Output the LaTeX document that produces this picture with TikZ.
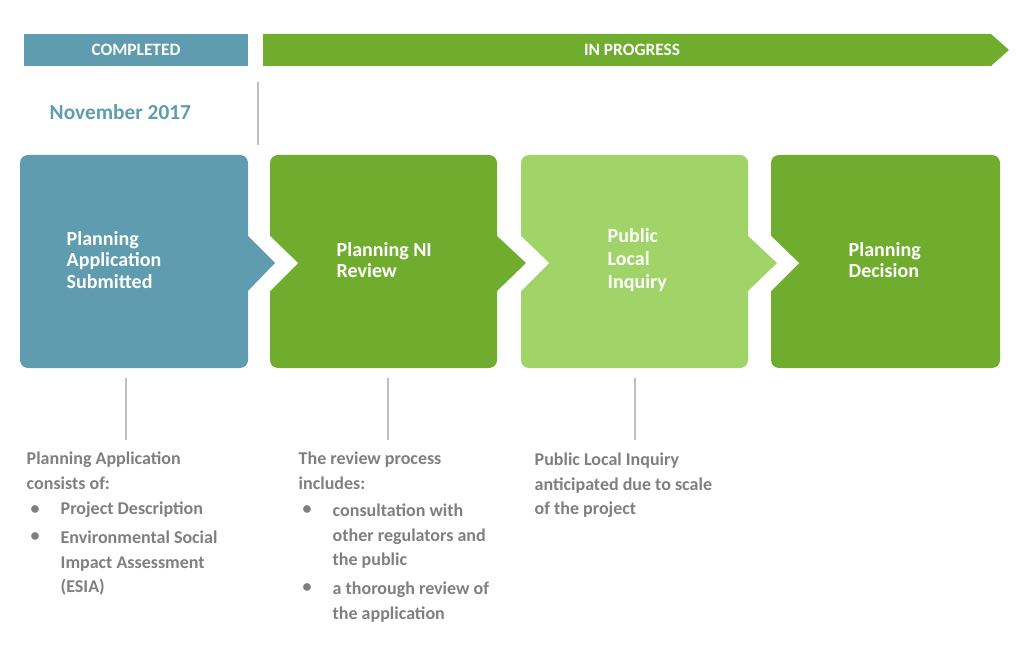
\documentclass[tikz,border=0pt]{standalone}
\usepackage{fontspec}
\setmainfont{Carlito}
\begin{document}
\begin{tikzpicture}[x=0.75pt,y=-0.75pt,
  boxtxt/.style={text=white,font=\bfseries\fontsize{15}{16}\selectfont,align=left,anchor=west},
  graytxt/.style={text=gtext,font=\bfseries\fontsize{13.5}{18.5}\selectfont,align=left,anchor=north west},
  gline/.style={draw=gline,line width=0.8pt}]
\definecolor{blueg}{HTML}{5F9CAF}
\definecolor{greenp}{HTML}{70AD2F}
\definecolor{lgreen}{HTML}{A0D468}
\definecolor{gtext}{HTML}{7F7F7F}
\definecolor{gline}{HTML}{BFBFBF}
\useasboundingbox (0,0) rectangle (1024,659);
% banner
\fill[blueg] (24,34) rectangle (248,66);
\node[text=white,font=\bfseries\fontsize{13}{14}\selectfont] (comp) at (136,50) {COMPLETED};
\fill[greenp] (263,34) -- (991,34) -- (1009,50) -- (991,66) -- (263,66) -- cycle;
\node[text=white,font=\bfseries\fontsize{13}{14}\selectfont] (prog) at (632,50) {IN PROGRESS};
\draw[gline] (258,82) -- (258,145);
\node[text=blueg,font=\bfseries\fontsize{16}{18}\selectfont,anchor=west] (nov) at (45,112) {November 2017};
% boxes
\fill[blueg,rounded corners=6] (20,155) rectangle (248,368);
\fill[greenp,rounded corners=6] (270,155) rectangle (497,368);
\fill[lgreen,rounded corners=6] (521,155) rectangle (748,368);
\fill[greenp,rounded corners=6] (771,155) rectangle (1000,368);
% notches
\fill[white] (269,235) -- (298,263) -- (269,292) -- cycle;
\fill[white] (520,235) -- (549,263) -- (520,292) -- cycle;
\fill[white] (770,235) -- (799,263) -- (770,292) -- cycle;
% tips
\fill[blueg] (247,235) -- (275,263) -- (247,292) -- cycle;
\fill[greenp] (496,235) -- (526,263) -- (496,292) -- cycle;
\fill[lgreen] (747,235) -- (777,263) -- (747,292) -- cycle;
\node[boxtxt] (b1) at (62,260) {Planning\\Application\\Submitted};
\node[boxtxt] (b2) at (332,260) {Planning NI\\Review};
\node[boxtxt,font=\bfseries\fontsize{15}{17.5}\selectfont] (b3) at (603,260) {Public\\Local\\Inquiry};
\node[boxtxt] (b4) at (844,260) {Planning\\Decision};
% connector lines
\coordinate (l1a) at (126,378); \coordinate (l1b) at (126,440);
\coordinate (l2a) at (388,378); \coordinate (l2b) at (388,440);
\coordinate (l3a) at (635,378); \coordinate (l3b) at (635,440);
\draw[gline] (l1a) -- (l1b);
\draw[gline] (l2a) -- (l2b);
\draw[gline] (l3a) -- (l3b);
% notes
\node[graytxt] (t1) at (22,447) {Planning Application\\consists of:};
\node[graytxt,anchor=west] (d1) at (26,510) {•};
\node[graytxt,anchor=west] (p1) at (56,510) {Project Description};
\node[graytxt,anchor=west] (d2) at (26,537) {•};
\node[graytxt,anchor=north west] (p2) at (56,526) {Environmental Social\\Impact Assessment\\(ESIA)};
\node[graytxt] (t2) at (294,447) {The review process\\includes:};
\node[graytxt,anchor=west] (d3) at (298,510) {•};
\node[graytxt,anchor=north west] (p3) at (328,499) {consultation with\\other regulators and\\the public};
\node[graytxt,anchor=west] (d4) at (298,588) {•};
\node[graytxt,anchor=north west] (p4) at (328,577) {a thorough review of\\the application};
\node[graytxt] (t3) at (530,448) {Public Local Inquiry\\anticipated due to scale\\of the project};
\end{tikzpicture}
\end{document}
